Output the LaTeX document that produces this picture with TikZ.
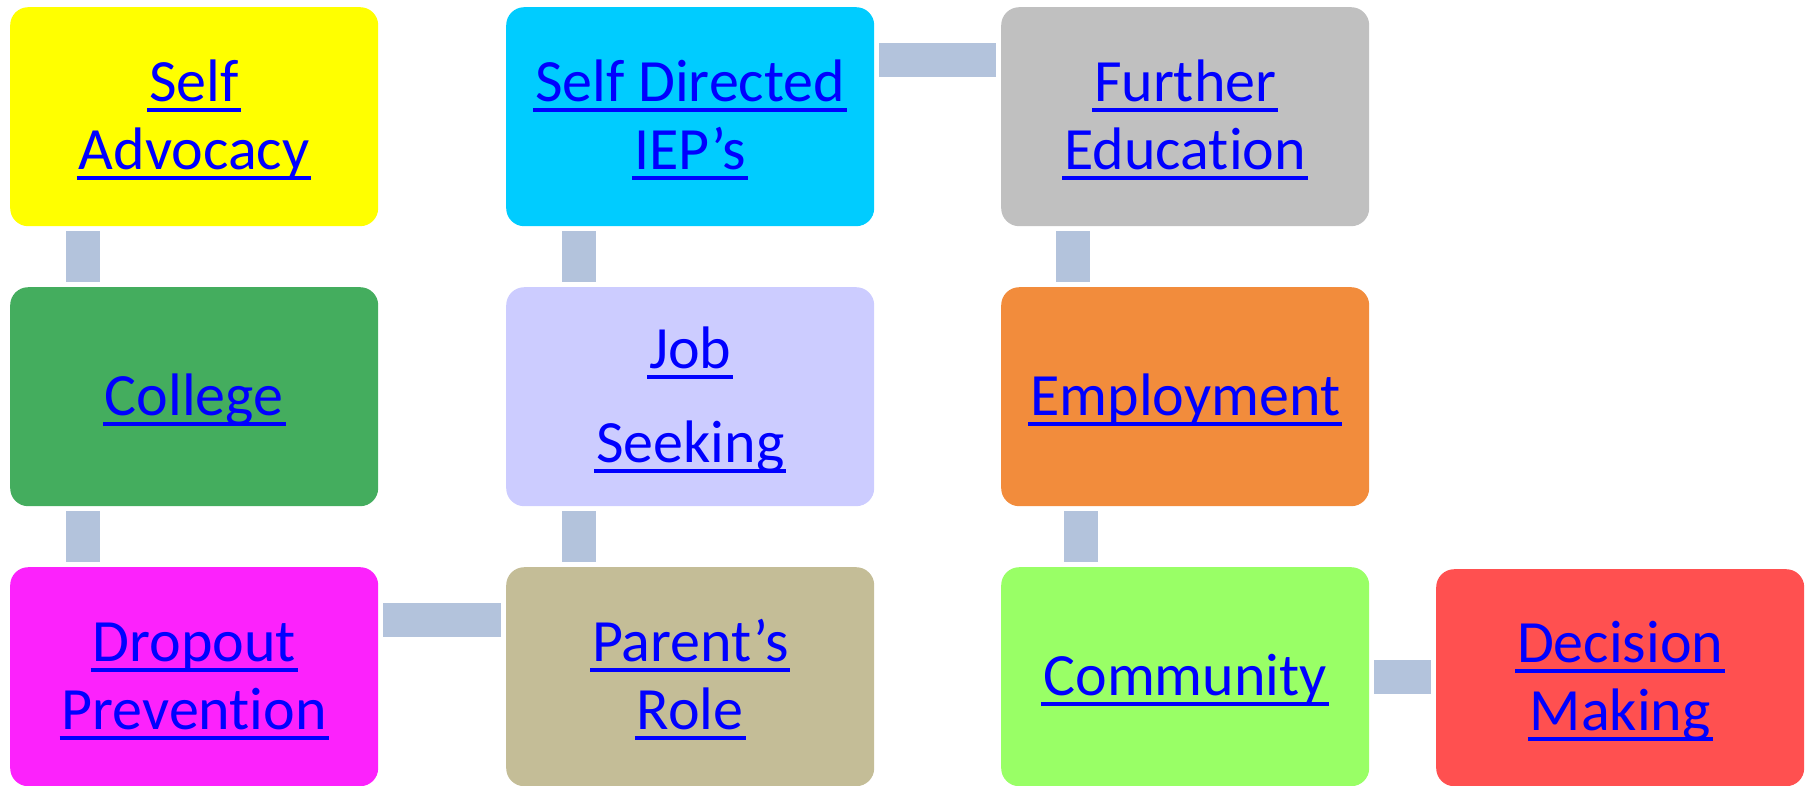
\documentclass[tikz,border=0pt]{standalone}
\usepackage{fontspec}
\setmainfont[Ligatures=NoCommon]{Carlito}
\definecolor{yellowc}{HTML}{FFFF00}
\definecolor{cyanc}{HTML}{00CCFF}
\definecolor{grayc}{HTML}{C0C0C0}
\definecolor{greenc}{HTML}{44AD5E}
\definecolor{lavc}{HTML}{CCCCFF}
\definecolor{orangec}{HTML}{F28C3C}
\definecolor{magc}{HTML}{FC22FC}
\definecolor{tanc}{HTML}{C4BD97}
\definecolor{limec}{HTML}{99FF66}
\definecolor{redc}{HTML}{FF5050}
\definecolor{connblue}{HTML}{B3C3DC}
\definecolor{linkblue}{HTML}{0000FF}
\newcommand\ulink[1]{\leavevmode\setbox0\hbox{#1}\rule{0pt}{48pt}\rlap{\kern-2pt\raisebox{-11pt}{\rule{\dimexpr\wd0+4pt\relax}{4pt}}}\box0}
\tikzset{
  box/.style={rounded corners=18pt, minimum width=368pt, minimum height=219pt, anchor=north west,
    inner sep=0pt, align=center, text=linkblue, font=\fontsize{60pt}{68pt}\selectfont},
  conn/.style={draw=connblue, line width=34pt, shorten <=5pt, shorten >=5pt}
}
\begin{document}
\begin{tikzpicture}[x=1pt,y=-1pt]
\useasboundingbox (0,0) rectangle (1810,785);
\node[box, fill=yellowc] (sa) at (10,7) {\ulink{Self}\\\ulink{Advocacy}};
\node[box, fill=greenc] (co) at (10,287) {\ulink{College}};
\node[box, fill=magc] (dp) at (10,567) {\ulink{Dropout}\\\ulink{Prevention}};
\node[box, fill=cyanc] (sd) at (506,7) {\ulink{Self Directed}\\\ulink{IEP’s}};
\node[box, fill=lavc] (js) at (506,287) {\ulink{Job}\\[26pt]\ulink{Seeking}};
\node[box, fill=tanc] (pr) at (506,567) {\ulink{Parent’s}\\\ulink{Role}};
\node[box, fill=grayc] (fe) at (1001,7) {\ulink{Further}\\\ulink{Education}};
\node[box, fill=orangec] (em) at (1001,287) {\ulink{Employment}};
\node[box, fill=limec] (cm) at (1001,567) {\ulink{Community}};
\node[box, fill=redc, minimum height=217pt] (dm) at (1436,569) {\ulink{Decision}\\\ulink{Making}};
\draw[conn] ([xshift=73pt]sa.south west) -- ([xshift=73pt]co.north west);
\draw[conn] ([xshift=73pt]co.south west) -- ([xshift=73pt]dp.north west);
\draw[conn] ([xshift=73pt]sd.south west) -- ([xshift=73pt]js.north west);
\draw[conn] ([xshift=73pt]js.south west) -- ([xshift=73pt]pr.north west);
\draw[conn] ([xshift=72pt]fe.south west) -- ([xshift=72pt]em.north west);
\draw[conn] ([xshift=80pt]em.south west) -- ([xshift=80pt]cm.north west);
\draw[conn] ([yshift=-53pt]sd.north east) -- ([yshift=-53pt]fe.north west);
\draw[conn] ([yshift=-53pt]dp.north east) -- ([yshift=-53pt]pr.north west);
\draw[conn] (cm.east) -- (cm.east -| dm.west);
\end{tikzpicture}
\end{document}
